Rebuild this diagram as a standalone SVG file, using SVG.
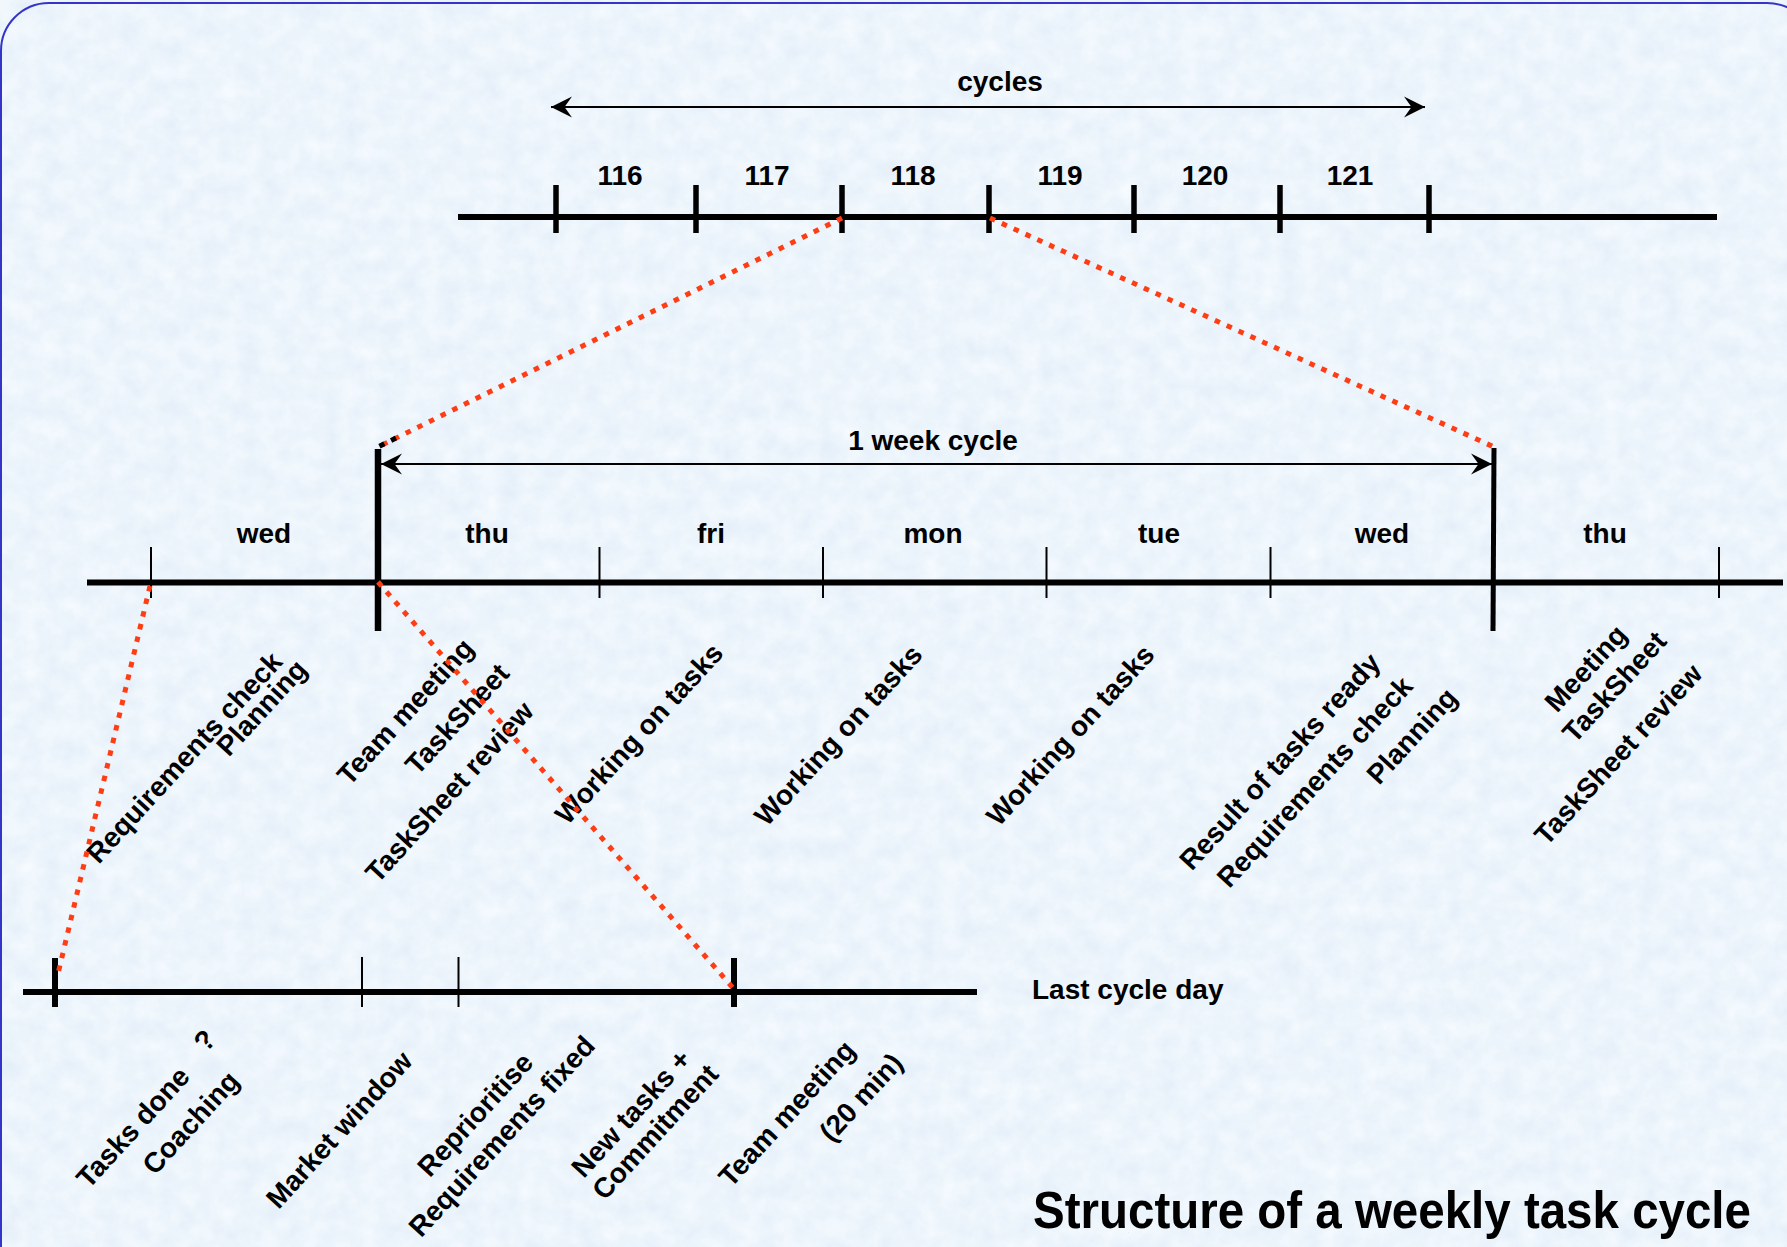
<svg xmlns="http://www.w3.org/2000/svg" width="1787" height="1247" viewBox="0 0 1787 1247">
  <defs>
    <style>
      .t { font-family: "Liberation Sans", Arial, sans-serif; font-weight: bold; font-size: 28px; fill: #000; }
      .c { text-anchor: middle; }
      .title { font-family: "Liberation Sans", Arial, sans-serif; font-weight: bold; font-size: 47.5px; fill: #000; }
      .axis { stroke: #000; stroke-width: 6; fill: none; }
      .tick { stroke: #000; stroke-width: 5.5; }
      .thin { stroke: #000; stroke-width: 2; }
      .span { stroke: #000; stroke-width: 2; fill: none; marker-start: url(#barb); marker-end: url(#barb); }
      .zoom { stroke: #ff3d14; stroke-width: 5; stroke-dasharray: 5.5 7.5; fill: none; }
    </style>
    <marker id="barb" viewBox="-22 -12 24 24" refX="0" refY="0" markerWidth="24" markerHeight="24" markerUnits="userSpaceOnUse" orient="auto-start-reverse">
      <path d="M0,0 L-21,-10.5 L-13.5,0 L-21,10.5 Z" fill="#000"/>
    </marker>
    <filter id="paper" x="0" y="0" width="100%" height="100%">
      <feTurbulence type="fractalNoise" baseFrequency="0.05" numOctaves="4" seed="11"/>
      <feColorMatrix type="matrix" values="0.16 0 0 0 0.765  0.12 0 0 0 0.85  0.06 0 0 0 0.94  0 0 0 0 1"/>
    </filter>
  </defs>

  <!-- paper background and frame -->
  <rect x="0" y="0" width="1787" height="1247" fill="#d7e8f8"/>
  <rect x="0" y="0" width="1787" height="1247" filter="url(#paper)"/>
  <rect x="1" y="3" width="1814" height="1320" rx="48" ry="48" fill="none" stroke="#3434c8" stroke-width="2"/>

  <!-- cycle scale -->
  <g id="cycle-scale">
    <line class="axis" x1="458" y1="217" x2="1717" y2="217"/>
    <line class="tick" x1="556" y1="185" x2="556" y2="233"/>
    <line class="tick" x1="696" y1="185" x2="696" y2="233"/>
    <line class="tick" x1="842" y1="185" x2="842" y2="233"/>
    <line class="tick" x1="989" y1="185" x2="989" y2="233"/>
    <line class="tick" x1="1134" y1="185" x2="1134" y2="233"/>
    <line class="tick" x1="1280" y1="185" x2="1280" y2="233"/>
    <line class="tick" x1="1429" y1="185" x2="1429" y2="233"/>
    <text class="t c" x="1000" y="91">cycles</text>
    <text class="t c" x="620" y="185">116</text>
    <text class="t c" x="767" y="185">117</text>
    <text class="t c" x="913" y="185">118</text>
    <text class="t c" x="1060" y="185">119</text>
    <text class="t c" x="1205" y="185">120</text>
    <text class="t c" x="1350" y="185">121</text>
  </g>

  <!-- week scale -->
  <g id="week-scale">
    <line class="axis" x1="87" y1="582.5" x2="1783" y2="582.5" stroke-width="5.5"/>
    <line class="thin" x1="151" y1="547" x2="151" y2="598"/>
    <line class="thin" x1="599.5" y1="547" x2="599.5" y2="598"/>
    <line class="thin" x1="823" y1="547" x2="823" y2="598"/>
    <line class="thin" x1="1046.5" y1="547" x2="1046.5" y2="598"/>
    <line class="thin" x1="1270.5" y1="547" x2="1270.5" y2="598"/>
    <line class="thin" x1="1719" y1="547" x2="1719" y2="598"/>
    <line x1="378" y1="449" x2="378" y2="631" stroke="#000" stroke-width="6.5"/>
    <line x1="1494" y1="448" x2="1493" y2="631" stroke="#000" stroke-width="5"/>
    <text class="t c" x="933" y="450">1 week cycle</text>
    <text class="t c" x="264" y="543">wed</text>
    <text class="t c" x="487" y="543">thu</text>
    <text class="t c" x="711" y="543">fri</text>
    <text class="t c" x="933" y="543">mon</text>
    <text class="t c" x="1159" y="543">tue</text>
    <text class="t c" x="1382" y="543">wed</text>
    <text class="t c" x="1605" y="543">thu</text>
  </g>

  <!-- day scale -->
  <g id="day-scale">
    <line class="axis" x1="23" y1="992" x2="977" y2="992"/>
    <line x1="55" y1="958" x2="55" y2="1007" stroke="#000" stroke-width="6"/>
    <line class="thin" x1="362" y1="957" x2="362" y2="1007"/>
    <line class="thin" x1="458.5" y1="957" x2="458.5" y2="1007"/>
    <line x1="734" y1="958" x2="734" y2="1007" stroke="#000" stroke-width="6"/>
    <text class="t" x="1032" y="999">Last cycle day</text>
  </g>

  <!-- activities per day: each line centred on its point, slanted upwards -->
  <g id="week-notes" class="t c">
    <text transform="translate(185.8,758.9) rotate(-47.5)" y="7.5">Requirements check</text>
    <text transform="translate(263.2,709.1) rotate(-47.5)" y="7.5">Planning</text>
    <text transform="translate(406.8,713.0) rotate(-47.5)" y="7.5">Team meeting</text>
    <text transform="translate(458.7,720.4) rotate(-47.5)" y="7.5">TaskSheet</text>
    <text transform="translate(451.0,793.2) rotate(-47.5)" y="7.5">TaskSheet review</text>
    <text transform="translate(640.5,735.0) rotate(-47.5)" y="7.5">Working on tasks</text>
    <text transform="translate(839.9,736.6) rotate(-47.5)" y="7.5">Working on tasks</text>
    <text transform="translate(1071.8,736.6) rotate(-47.5)" y="7.5">Working on tasks</text>
    <text transform="translate(1281.4,762.9) rotate(-47.5)" y="7.5">Result of tasks ready</text>
    <text transform="translate(1316.3,783.3) rotate(-47.5)" y="7.5">Requirements check</text>
    <text transform="translate(1413.3,737.3) rotate(-47.5)" y="7.5">Planning</text>
    <text transform="translate(1587.3,669.8) rotate(-47.5)" y="7.5">Meeting</text>
    <text transform="translate(1615.9,688.2) rotate(-47.5)" y="7.5">TaskSheet</text>
    <text transform="translate(1619.8,755.7) rotate(-47.5)" y="7.5">TaskSheet review</text>
  </g>

  <g id="day-notes" class="t c">
    <text transform="translate(134.5,1128.7) rotate(-47.5)" y="7.5">Tasks done</text>
    <text transform="translate(204.5,1040.3) rotate(-47.5)" y="10">?</text>
    <text transform="translate(192.2,1124.1) rotate(-47.5)" y="7.5">Coaching</text>
    <text transform="translate(340.7,1131.2) rotate(-47.5)" y="7.5">Market window</text>
    <text transform="translate(476.8,1116.0) rotate(-47.5)" y="7.5">Reprioritise</text>
    <text transform="translate(503.3,1137.7) rotate(-47.5)" y="7.5">Requirements fixed</text>
    <text transform="translate(632.7,1114.8) rotate(-47.5)" y="7.5">New tasks +</text>
    <text transform="translate(656.7,1133.3) rotate(-47.5)" y="7.5">Commitment</text>
    <text transform="translate(788.3,1114.9) rotate(-47.5)" y="7.5">Team meeting</text>
    <text transform="translate(862.5,1098.7) rotate(-47.5)" y="7.5">(20 min)</text>
  </g>

  <!-- connectors: spans and zoom-in guides -->
  <g id="connectors">
    <line class="span" x1="551" y1="107" x2="1425" y2="107"/>
    <line class="span" x1="381" y1="464" x2="1492" y2="464"/>
    <line class="zoom" x1="842" y1="218" x2="378" y2="447"/>
    <line x1="396" y1="438" x2="378" y2="447" stroke="#000" stroke-width="5" stroke-dasharray="5.5 7.5"/>
    <line class="zoom" x1="990" y1="218" x2="1494" y2="447"/>
    <line class="zoom" x1="150" y1="586" x2="57" y2="978"/>
    <line class="zoom" x1="378" y1="582" x2="733" y2="988"/>
  </g>

  <text class="title" transform="translate(1033,1228) scale(1,1.09)">Structure of a weekly task cycle</text>
</svg>
